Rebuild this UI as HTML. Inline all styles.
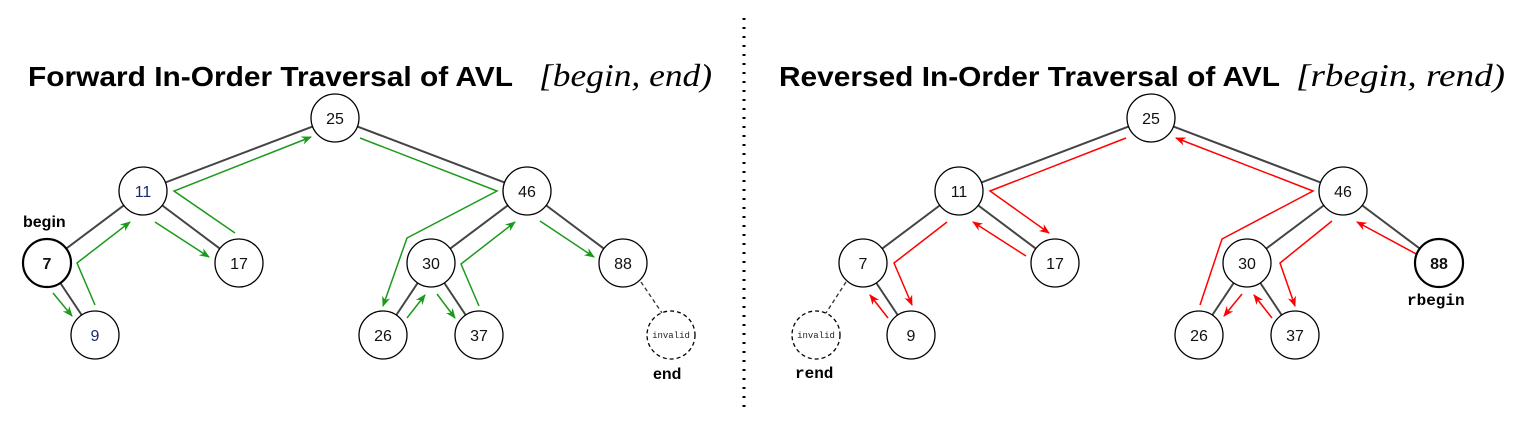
<!DOCTYPE html>
<html><head><meta charset="utf-8"><style>
html,body{margin:0;padding:0;background:#fff;}
svg{display:block}
</style></head><body>
<svg width="1520" height="430" viewBox="0 0 1520 430" xmlns="http://www.w3.org/2000/svg">
<defs>
<marker id="ag" viewBox="0 0 10 10" refX="9" refY="5" markerWidth="7" markerHeight="7" orient="auto"><path d="M0,1 L10,5 L0,9 L3,5 z" fill="#1a9a1a"/></marker>
<marker id="ar" viewBox="0 0 10 10" refX="9" refY="5" markerWidth="7" markerHeight="7" orient="auto"><path d="M0,1 L10,5 L0,9 L3,5 z" fill="#f00"/></marker>
</defs>
<line x1="744" y1="18" x2="744" y2="410" stroke="#000" stroke-width="3" stroke-dasharray="2,7"/>
<text x="28" y="86" font-family="Liberation Sans, sans-serif" font-weight="bold" font-size="28" textLength="485" lengthAdjust="spacingAndGlyphs">Forward In-Order Traversal of AVL</text>
<text x="539" y="86" font-family="Liberation Serif, serif" font-style="italic" font-size="32" textLength="173" lengthAdjust="spacingAndGlyphs">[begin, end)</text>
<text x="779" y="86" font-family="Liberation Sans, sans-serif" font-weight="bold" font-size="28" textLength="501" lengthAdjust="spacingAndGlyphs">Reversed In-Order Traversal of AVL</text>
<text x="1296" y="86" font-family="Liberation Serif, serif" font-style="italic" font-size="32" textLength="209" lengthAdjust="spacingAndGlyphs">[rbegin, rend)</text>

<g stroke="#444" stroke-width="2" fill="none">
<line x1="335" y1="118" x2="143" y2="191"/><line x1="335" y1="118" x2="527" y2="191"/>
<line x1="143" y1="191" x2="47" y2="263"/><line x1="143" y1="191" x2="239" y2="263"/>
<line x1="527" y1="191" x2="431" y2="263"/><line x1="527" y1="191" x2="623" y2="263"/>
<line x1="47" y1="263" x2="95" y2="335"/><line x1="431" y1="263" x2="383" y2="335"/><line x1="431" y1="263" x2="479" y2="335"/>
<line x1="1151" y1="118" x2="959" y2="191"/><line x1="1151" y1="118" x2="1343" y2="191"/>
<line x1="959" y1="191" x2="863" y2="263"/><line x1="959" y1="191" x2="1055" y2="263"/>
<line x1="1343" y1="191" x2="1247" y2="263"/><line x1="1343" y1="191" x2="1439" y2="263"/>
<line x1="863" y1="263" x2="911" y2="335"/><line x1="1247" y1="263" x2="1199" y2="335"/><line x1="1247" y1="263" x2="1295" y2="335"/>
</g>
<g stroke="#333" stroke-width="1.3" stroke-dasharray="4,3" fill="none">
<line x1="641" y1="282" x2="662" y2="313"/><line x1="846" y1="282" x2="826" y2="313"/>
</g>

<g stroke="#1a9a1a" stroke-width="1.5" fill="none" marker-end="url(#ag)">
<line x1="53" y1="293" x2="72" y2="316"/>
<polyline points="95,305 77,263 130,222"/>
<line x1="155" y1="222" x2="209" y2="257"/>
<polyline points="235,233 174,191 311,137"/>
<polyline points="360,138 497,191 407,238 383,306"/>
<line x1="407" y1="318" x2="425" y2="295"/>
<line x1="437" y1="294" x2="455" y2="318"/>
<polyline points="479,306 461,264 515,222"/>
<line x1="540" y1="221" x2="594" y2="257"/>
</g>
<g stroke="#f00" stroke-width="1.5" fill="none" marker-end="url(#ar)">
<line x1="1420" y1="256" x2="1357" y2="222"/>
<polyline points="1332,221 1280,263 1295,306"/>
<line x1="1272" y1="318" x2="1254" y2="295"/>
<line x1="1242" y1="294" x2="1224" y2="316"/>
<polyline points="1200,305 1222,239 1313,191 1176,138"/>
<polyline points="1126,138 990,191 1049,233"/>
<line x1="1026" y1="256" x2="973" y2="222"/>
<polyline points="947,222 894,263 912,305"/>
<line x1="888" y1="318" x2="870" y2="295"/>
</g>

<g fill="#fff" stroke="#000" stroke-width="1.3">
<circle cx="335" cy="118" r="24"/><circle cx="143" cy="191" r="24"/><circle cx="527" cy="191" r="24"/>
<circle cx="47" cy="263" r="24" stroke-width="2.2"/><circle cx="239" cy="263" r="24"/><circle cx="431" cy="263" r="24"/><circle cx="623" cy="263" r="24"/>
<circle cx="95" cy="335" r="24"/><circle cx="383" cy="335" r="24"/><circle cx="479" cy="335" r="24"/>
<circle cx="1151" cy="118" r="24"/><circle cx="959" cy="191" r="24"/><circle cx="1343" cy="191" r="24"/>
<circle cx="863" cy="263" r="24"/><circle cx="1055" cy="263" r="24"/><circle cx="1247" cy="263" r="24"/><circle cx="1439" cy="263" r="24" stroke-width="2.2"/>
<circle cx="911" cy="335" r="24"/><circle cx="1199" cy="335" r="24"/><circle cx="1295" cy="335" r="24"/>
<circle cx="671" cy="335" r="24" stroke-dasharray="4,3"/><circle cx="816" cy="335" r="24" stroke-dasharray="4,3"/>
</g>
<g font-family="Liberation Sans, sans-serif" font-size="16" text-anchor="middle" fill="#111">
<text x="335" y="124">25</text><text x="143" y="197" fill="#1a2a6a">11</text><text x="527" y="197">46</text>
<text x="47" y="269" font-weight="bold">7</text><text x="239" y="269">17</text><text x="431" y="269">30</text><text x="623" y="269">88</text>
<text x="95" y="341" fill="#1a2a6a">9</text><text x="383" y="341">26</text><text x="479" y="341">37</text>
<text x="1151" y="124">25</text><text x="959" y="197">11</text><text x="1343" y="197">46</text>
<text x="863" y="269">7</text><text x="1055" y="269">17</text><text x="1247" y="269">30</text><text x="1439" y="269" font-weight="bold">88</text>
<text x="911" y="341">9</text><text x="1199" y="341">26</text><text x="1295" y="341">37</text>
</g>
<g font-family="Liberation Mono, monospace" font-size="9" text-anchor="middle" fill="#222">
<text x="671" y="338">invalid</text><text x="816" y="338">invalid</text>
</g>
<g font-weight="bold" font-size="16" fill="#000">
<text x="23" y="227" font-family="Liberation Sans, sans-serif">begin</text>
<text x="653" y="379" font-family="Liberation Sans, sans-serif">end</text>
<text x="795" y="378" font-family="Liberation Mono, monospace">rend</text>
<text x="1407" y="305" font-family="Liberation Mono, monospace">rbegin</text>
</g>
</svg>
</body></html>
